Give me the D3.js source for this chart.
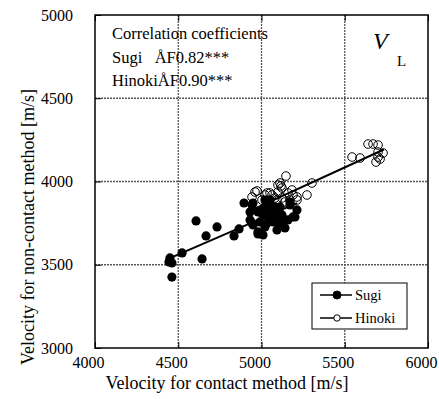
<!DOCTYPE html>
<html>
<head>
<meta charset="utf-8">
<script src="https://cdn.jsdelivr.net/npm/d3@7"></script>
<style>
  body { margin: 0; background: #fff; }
  text { font-family: "Liberation Serif", "Times New Roman", serif; fill: #000; }
</style>
</head>
<body>
<div id="chart"></div>
<script>
// tick values
const xTicks = [4000, 4500, 5000, 5500, 6000]
const yTicks = [3000, 3500, 4000, 4500, 5000]

// Sugi (filled) : [contact, non-contact]
const sugi = [
    [4450, 3541], [4444, 3517], [4462, 3511], [4462, 3426], [4523, 3571],
    [4643, 3535], [4667, 3673], [4607, 3763], [4733, 3727], [4835, 3673],
    [4865, 3715], [4895, 3871], [4931, 3817], [4949, 3871], [4943, 3751],
    [4979, 3685], [5009, 3679], [4943, 3859], [4931, 3769], [4949, 3739],
    [5021, 3727], [5051, 3787], [5093, 3709], [5099, 3769], [5123, 3799],
    [5159, 3769], [5189, 3787], [5171, 3859], [5081, 3847], [5009, 3829],
    [5039, 3871], [4979, 3817], [5009, 3799], [5051, 3829], [5093, 3811],
    [5129, 3769], [5069, 3757], [5033, 3751], [4991, 3757], [4979, 3697],
    [5141, 3721], [5111, 3739], [5051, 3889], [5021, 3889], [5033, 3847],
    [5111, 3847], [5213, 3829], [5201, 3787], [5171, 3877], [5063, 3805]
]

// Hinoki (open)
const hinoki = [
    [5147, 4033], [5111, 3991], [5117, 3973], [5123, 3961], [5303, 3991],
    [4973, 3943], [4961, 3937], [4943, 3907], [5033, 3931], [5051, 3931],
    [5063, 3919], [5099, 3937], [5099, 3979], [5183, 3949], [5189, 3919],
    [5213, 3907], [5273, 3919], [5123, 3901], [5141, 3877], [5093, 3889],
    [5213, 3889], [5003, 3889], [5039, 3859], [5081, 3901], [5171, 3889],
    [5021, 3919], [5159, 3931], [5640, 4225], [5670, 4225], [5700, 4219],
    [5544, 4147], [5592, 4141], [5730, 4171], [5700, 4147], [5712, 4135],
    [5688, 4117], [5700, 4177]
]

// regression line end points
const sugiFit = [[4450, 3540], [5213, 3870]]
const hinokiFit = [[4943, 3830], [5735, 4192]]

const corrLines = ['Correlation coefficients', 'Sugi   ÅF0.82***', 'HinokiÅF0.90***']
const legendNames = ['Sugi', 'Hinoki']

const W = 439, H = 399
const m = { left: 95, top: 15, right: 11, bottom: 51 }
const pw = W - m.left - m.right, ph = H - m.top - m.bottom

const svg = d3.select('#chart').append('svg')
    .attr('width', W)
    .attr('height', H)

const x = d3.scaleLinear().domain([4000, 6000]).range([m.left, m.left + pw])
const y = d3.scaleLinear().domain([3000, 5000]).range([m.top + ph, m.top])

// grid
svg.append('g').selectAll('line')
    .data(xTicks.slice(1, -1))
    .enter().append('line')
    .attr('x1', d => x(d)).attr('x2', d => x(d))
    .attr('y1', m.top).attr('y2', m.top + ph)
    .attr('stroke', '#555').attr('stroke-width', 1.3)
    .attr('stroke-dasharray', '2,1')
svg.append('g').selectAll('line')
    .data(yTicks.slice(1, -1))
    .enter().append('line')
    .attr('y1', d => y(d)).attr('y2', d => y(d))
    .attr('x1', m.left).attr('x2', m.left + pw)
    .attr('stroke', '#555').attr('stroke-width', 1.3)
    .attr('stroke-dasharray', '2,1')

// axes, inward ticks
const xAxis = d3.axisBottom(x).tickValues(xTicks).tickFormat(d3.format('d'))
    .tickSizeInner(-6).tickSizeOuter(0).tickPadding(9)
const gx = svg.append('g')
    .attr('transform', `translate(0, ${m.top + ph})`)
    .call(xAxis)
gx.selectAll('text').attr('dx', -7).style('font-size', '16px').style('font-family', '"Liberation Serif", serif')
gx.select('.domain').remove()

const xTop = d3.axisTop(x).tickValues(xTicks).tickSizeInner(-6).tickSizeOuter(0).tickFormat('')
svg.append('g').attr('transform', `translate(0, ${m.top})`).call(xTop).select('.domain').remove()

const yAxis = d3.axisLeft(y).tickValues(yTicks).tickFormat(d3.format('d'))
    .tickSizeInner(-6).tickSizeOuter(0).tickPadding(22)
const gy = svg.append('g')
    .attr('transform', `translate(${m.left}, 0)`)
    .call(yAxis)
gy.selectAll('text').style('font-size', '16px').style('font-family', '"Liberation Serif", serif')
gy.select('.domain').remove()

// frame
svg.append('rect')
    .attr('x', m.left).attr('y', m.top)
    .attr('width', pw).attr('height', ph)
    .attr('fill', 'none')
    .attr('stroke', '#000')
    .attr('stroke-width', 1.5)

// fit lines
const line = d3.line().x(d => x(d[0])).y(d => y(d[1]))
svg.append('path').datum(sugiFit).attr('d', line)
    .attr('stroke', '#000').attr('stroke-width', 2).attr('fill', 'none')
svg.append('path').datum(hinokiFit).attr('d', line)
    .attr('stroke', '#000').attr('stroke-width', 2).attr('fill', 'none')

// points
svg.append('g').selectAll('circle')
    .data(hinoki)
    .enter().append('circle')
    .attr('cx', d => x(d[0])).attr('cy', d => y(d[1]))
    .attr('r', 4.3)
    .attr('fill', 'none').attr('stroke', '#000').attr('stroke-width', 1)
svg.append('g').selectAll('circle')
    .data(sugi)
    .enter().append('circle')
    .attr('cx', d => x(d[0])).attr('cy', d => y(d[1]))
    .attr('r', 4.6)
    .attr('fill', '#000')

// correlation text
svg.append('g').selectAll('text')
    .data(corrLines)
    .enter().append('text')
    .attr('x', 112)
    .attr('y', (d, i) => 39 + i * 23.5)
    .style('font-size', '16.5px')
    .style('white-space', 'pre')
    .text(d => d)

svg.append('text')
    .attr('x', 373).attr('y', 49)
    .style('font-size', '24px').style('font-style', 'italic')
    .text('V')
svg.append('text')
    .attr('x', 397).attr('y', 66)
    .style('font-size', '15px')
    .text('L')

// legend
const lg = svg.append('g')
lg.append('rect')
    .attr('x', 312).attr('y', 283)
    .attr('width', 95).attr('height', 46)
    .attr('fill', '#fff').attr('stroke', '#000').attr('stroke-width', 1)
legendNames.forEach((name, i) => {
    const ly = 295 + i * 23
    lg.append('line')
        .attr('x1', 320).attr('x2', 352)
        .attr('y1', ly).attr('y2', ly)
        .attr('stroke', '#000').attr('stroke-width', 1.5)
    lg.append('circle')
        .attr('cx', 337).attr('cy', ly)
        .attr('r', i === 0 ? 4 : 3.2)
        .attr('fill', i === 0 ? '#000' : '#fff')
        .attr('stroke', '#000').attr('stroke-width', 1)
    lg.append('text')
        .attr('x', 355).attr('y', ly + 5)
        .style('font-size', '14.5px')
        .text(name)
})

// axis titles
svg.append('text')
    .attr('x', 227).attr('y', 389)
    .style('text-anchor', 'middle')
    .style('font-size', '18px')
    .text('Velocity for contact method [m/s]')
svg.append('text')
    .attr('transform', 'translate(34, 227) rotate(-90)')
    .style('text-anchor', 'middle')
    .style('font-size', '18px')
    .text('Velocity for non-contact method [m/s]')
</script>
</body>
</html>
